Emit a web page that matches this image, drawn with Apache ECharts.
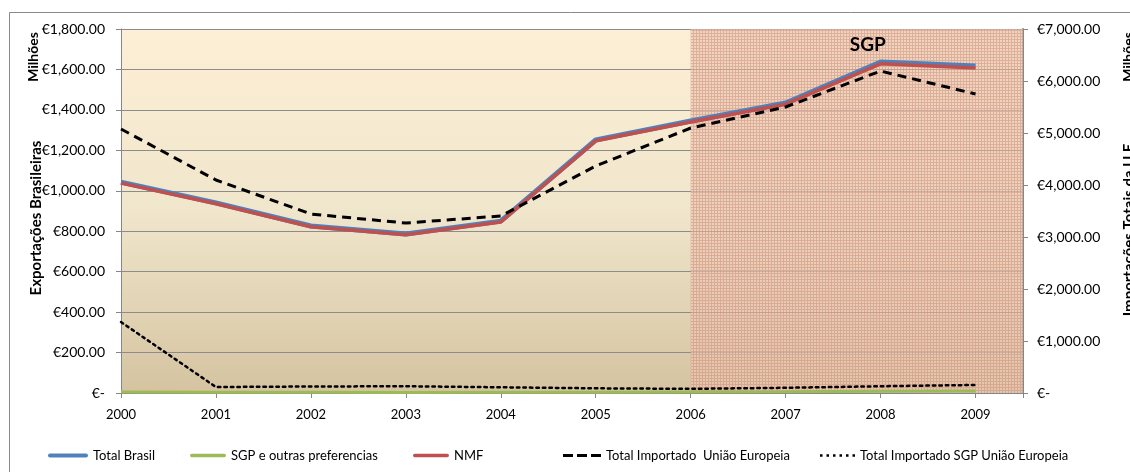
<!DOCTYPE html>
<html>
<head>
<meta charset="utf-8">
<script src="https://cdn.jsdelivr.net/npm/echarts@6/dist/echarts.min.js"></script>
<style>
html,body{margin:0;padding:0;background:#fff;}
#chart{width:1130px;height:472px;}
</style>
</head>
<body>
<div id="chart"></div>
<script>
// Years on the horizontal axis
const years = [2000, 2001, 2002, 2003, 2004, 2005, 2006, 2007, 2008, 2009];

// Brazilian exports (left axis, million €)
const totalBrasil = [1043, 940, 826, 786, 850, 1251, 1345, 1434, 1637, 1617];
const sgpOutras   = [5, 4, 4, 3, 4, 4, 5, 6, 9, 10];
const nmf         = [1038, 936, 822, 783, 846, 1247, 1340, 1428, 1628, 1607];

// EU imports (right axis, million €)
const totalImportUE    = [5077, 4096, 3442, 3269, 3404, 4365, 5096, 5500, 6192, 5750];
const totalImportSgpUE = [1365, 115, 125, 130, 110, 90, 80, 100, 130, 155];

// Period under the GSP scheme
const sgpStart = 2006;
const sgpLabel = 'SGP';

const FONT = 'Lato, "Open Sans", sans-serif';

function pairs(vals) { return years.map((y, i) => [y, vals[i]]); }
function euro(v) {
  if (v === 0) return '€-';
  return '€' + v.toLocaleString('en-US', {minimumFractionDigits: 2, maximumFractionDigits: 2});
}

// Fine check pattern for the GSP period background
const pc = document.createElement('canvas');
pc.width = 3; pc.height = 3;
const g = pc.getContext('2d');
g.fillStyle = 'rgba(232,200,178,0.66)';
g.fillRect(0, 0, 3, 3);
g.fillStyle = 'rgba(205,128,114,0.45)';
g.fillRect(0, 0, 3, 1);
g.fillRect(0, 1, 1, 2);

const chart = echarts.init(document.getElementById('chart'));

// Legend icons drawn as paths so each keeps its line look
const ICONS = {
  solid: 'path://M2,0H38A2,2 0 0 1 38,4H2A2,2 0 0 1 2,0Z',
  dashed: 'path://M0,0H10V3H0Z M14,0H24V3H14Z M28,0H38V3H28Z',
  dotted: 'path://M0,0H2.5V2.5H0Z M6.5,0H9V2.5H6.5Z M13,0H15.5V2.5H13Z M19.5,0H22V2.5H19.5Z M26,0H28.5V2.5H26Z M32.5,0H35V2.5H32.5Z'
};

function legendAt(left, name, icon, w, h) {
  return {
    data: [{name: name, icon: icon}], left: left, top: 449, itemWidth: w, itemHeight: h,
    textStyle: {fontFamily: FONT, fontSize: 13, color: '#000'}, padding: 0, itemGap: 4
  };
}

chart.setOption({
  animation: false,
  backgroundColor: '#fff',
  grid: {
    left: 121, right: 107, top: 29, bottom: 79, show: true, borderWidth: 0,
    backgroundColor: new echarts.graphic.LinearGradient(0, 0, 0, 1, [
      {offset: 0, color: '#fdefd6'},
      {offset: 0.5, color: '#f0e6cc'},
      {offset: 1, color: '#d5c3a0'}
    ])
  },
  xAxis: {
    type: 'value', min: 2000, max: 2009.5, interval: 1,
    axisLine: {lineStyle: {color: '#868686'}},
    axisTick: {show: true, length: 5, lineStyle: {color: '#868686'}},
    splitLine: {show: false},
    axisLabel: {
      fontFamily: FONT, fontSize: 13, color: '#000', margin: 15,
      formatter: v => Number.isInteger(v) ? String(v) : ''
    }
  },
  yAxis: [
    {
      type: 'value', min: 0, max: 1800, interval: 200, position: 'left',
      axisLine: {show: true, lineStyle: {color: '#868686'}},
      axisTick: {show: true, length: 5, lineStyle: {color: '#868686'}},
      splitLine: {lineStyle: {color: '#8c8c8c', width: 1}},
      axisLabel: {fontFamily: FONT, fontSize: 14, color: '#000', margin: 16, formatter: euro}
    },
    {
      type: 'value', min: 0, max: 7000, interval: 1000, position: 'right',
      axisLine: {show: true, lineStyle: {color: '#868686', width: 2}},
      axisTick: {show: true, length: 5, lineStyle: {color: '#868686'}},
      splitLine: {show: false},
      axisLabel: {fontFamily: FONT, fontSize: 14, color: '#000', margin: 14, formatter: euro}
    }
  ],
  legend: [
    legendAt(48, 'Total Brasil', ICONS.solid, 40, 5),
    legendAt(190, 'SGP e outras preferencias', ICONS.solid, 36, 4),
    legendAt(413, 'NMF', ICONS.solid, 36, 4),
    legendAt(563, 'Total Importado  União Europeia', ICONS.dashed, 38, 3),
    legendAt(820, 'Total Importado SGP União Europeia', ICONS.dotted, 35, 2.5)
  ],
  graphic: [
    {type: 'rect', shape: {x: 9.5, y: 12.5, width: 1200, height: 600}, silent: true,
     style: {fill: 'none', stroke: '#8a8a8a', lineWidth: 1}, z: -1},
    {type: 'text', x: 36, y: 218, rotation: Math.PI / 2, silent: true,
     style: {text: 'Exportações Brasileiras', font: 'bold 15px ' + FONT, fill: '#000',
             textAlign: 'center', textVerticalAlign: 'middle'}},
    {type: 'text', x: 33, y: 57, rotation: Math.PI / 2, silent: true,
     style: {text: 'Milhões', font: 'bold 14px ' + FONT, fill: '#000',
             textAlign: 'center', textVerticalAlign: 'middle'}},
    {type: 'text', x: 1129, y: 230, rotation: Math.PI / 2, silent: true,
     style: {text: 'Importações Totais da U.E', font: 'bold 15px ' + FONT, fill: '#000',
             textAlign: 'center', textVerticalAlign: 'middle'}},
    {type: 'text', x: 1128, y: 57, rotation: Math.PI / 2, silent: true,
     style: {text: 'Milhões', font: 'bold 14px ' + FONT, fill: '#000',
             textAlign: 'center', textVerticalAlign: 'middle'}}
  ],
  series: [
    {
      name: 'SGP e outras preferencias', type: 'line', yAxisIndex: 0, z: 2,
      data: pairs(sgpOutras), showSymbol: false, symbol: 'none',
      lineStyle: {color: '#9bbb59', width: 3}, itemStyle: {color: '#9bbb59'},
      markArea: {
        silent: true,
        itemStyle: {color: {image: pc, repeat: 'repeat'}},
        label: {show: true, position: 'insideTop', distance: 6, offset: [11, 0],
                formatter: sgpLabel, fontFamily: FONT, fontSize: 19, fontWeight: 'bold', color: '#000'},
        data: [[{xAxis: sgpStart}, {xAxis: 2009.5}]]
      }
    },
    {
      name: 'Total Brasil', type: 'line', yAxisIndex: 0, z: 3,
      data: pairs(totalBrasil), showSymbol: false, symbol: 'none',
      lineStyle: {color: '#4f81bd', width: 5}, itemStyle: {color: '#4f81bd'}
    },
    {
      name: 'NMF', type: 'line', yAxisIndex: 0, z: 4,
      data: pairs(nmf), showSymbol: false, symbol: 'none',
      lineStyle: {color: '#c0504d', width: 3.5}, itemStyle: {color: '#c0504d'}
    },
    {
      name: 'Total Importado  União Europeia', type: 'line', yAxisIndex: 1, z: 5,
      data: pairs(totalImportUE), showSymbol: false, symbol: 'none',
      lineStyle: {color: '#000', width: 3, type: [9, 6]}, itemStyle: {color: '#000'}
    },
    {
      name: 'Total Importado SGP União Europeia', type: 'line', yAxisIndex: 1, z: 5,
      data: pairs(totalImportSgpUE), showSymbol: false, symbol: 'none',
      lineStyle: {color: '#000', width: 2.5, type: [2.5, 4], cap: 'round'}, itemStyle: {color: '#000'}
    }
  ]
});
</script>
</body>
</html>
